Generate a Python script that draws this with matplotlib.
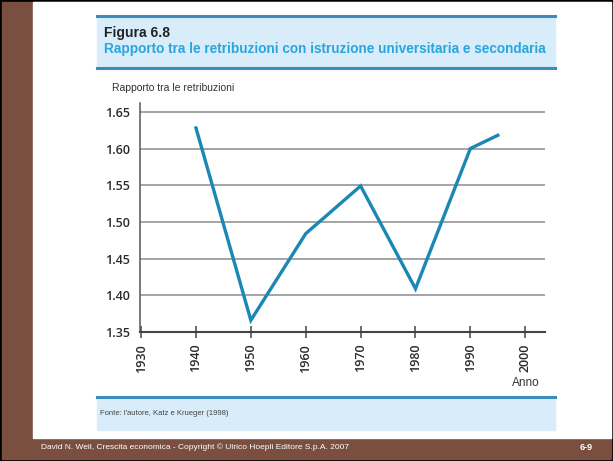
import matplotlib.pyplot as plt
from matplotlib.patches import Rectangle
from matplotlib.lines import Line2D

plt.rcParams['font.family'] = ['Liberation Sans', 'DejaVu Sans']

# dati
anni = [1940, 1950, 1960, 1970, 1980, 1990, 1995]
rapporto = [1.628, 1.366, 1.484, 1.549, 1.409, 1.600, 1.618]
yticks = [1.35, 1.40, 1.45, 1.50, 1.55, 1.60, 1.65]
xticks = [1930, 1940, 1950, 1960, 1970, 1980, 1990, 2000]

W, H = 613, 461
fig = plt.figure(figsize=(W / 100, H / 100), dpi=100)
fig.patch.set_facecolor('black')


def px(x, y, w, h):
    # pixel box (top-left origin) -> figure coords
    return (x / W, 1 - (y + h) / H, w / W, h / H)


brown = '#7b4f3f'
blue_line = '#3a8cbd'
panel = '#d8ecf9'

bg = fig.add_axes([0, 0, 1, 1])
bg.set_xlim(0, W)
bg.set_ylim(H, 0)
bg.axis('off')
bg.add_patch(Rectangle((2, 2), W - 4, H - 4, color=brown))
bg.add_patch(Rectangle((33, 2), W - 35, 436, color='white'))
# pannello azzurro
bg.add_patch(Rectangle((97, 16), 458, 52, color=panel))
bg.add_patch(Rectangle((97, 397), 458, 33, color=panel))
bg.add_line(Line2D([97, 555], [16, 16], color=blue_line, lw=2.2))
bg.add_line(Line2D([97, 555], [68, 68], color=blue_line, lw=2.2))
bg.add_line(Line2D([97, 555], [397, 397], color=blue_line, lw=2.2))

bg.text(104, 33, 'Figura 6.8', fontsize=10, fontweight='bold', color='#222222', va='center')
bg.text(104, 49, 'Rapporto tra le retribuzioni con istruzione universitaria e secondaria',
        fontsize=9.8, fontweight='bold', color='#2aa6de', va='center')
bg.text(112, 88, 'Rapporto tra le retribuzioni', fontsize=7.5, color='#333333', va='center')
bg.text(540, 383, 'Anno', fontsize=8.5, color='#333333', va='center', ha='right')
bg.text(100, 413, "Fonte: l'autore, Katz e Krueger (1998)", fontsize=5.5, color='#444444', va='center')
bg.text(41, 447, 'David N. Weil, Crescita economica - Copyright © Ulrico Hoepli Editore S.p.A. 2007',
        fontsize=6, color='white', va='center')
bg.text(593, 447, '6-9', fontsize=6.5, fontweight='bold', color='white', va='center', ha='right')

ax = fig.add_axes(px(140, 103, 405, 229))
ax.set_facecolor('none')
ax.plot(anni, rapporto, color='#1a87b5', lw=2.4, solid_joinstyle='miter', zorder=3)
ax.set_xlim(1929.8, 2003.6)
ax.set_ylim(1.35, 1.662)
ax.set_yticks(yticks)
ax.set_yticklabels([f'{v:.2f}' for v in yticks], fontsize=9, color='#2a2a2a',
                   family=['Open Sans', 'DejaVu Sans'], fontweight='semibold')
ax.set_xticks(xticks)
ax.set_xticklabels([str(v) for v in xticks], rotation=90, fontsize=9, color='#2a2a2a',
                   family=['Open Sans', 'DejaVu Sans'], fontweight='semibold')
ax.yaxis.grid(True, color='#8c8c8c', lw=1.1)
ax.set_axisbelow(True)
ax.tick_params(axis='y', length=0, pad=7)
ax.tick_params(axis='x', direction='inout', length=9, width=1.1, color='#444444', pad=4)
for s in ['top', 'right']:
    ax.spines[s].set_visible(False)
ax.spines['left'].set_color('#555555')
ax.spines['left'].set_linewidth(1.1)
ax.spines['bottom'].set_color('#444444')
ax.spines['bottom'].set_linewidth(1.5)

fig.savefig('out.png', dpi=100, facecolor=fig.get_facecolor())
